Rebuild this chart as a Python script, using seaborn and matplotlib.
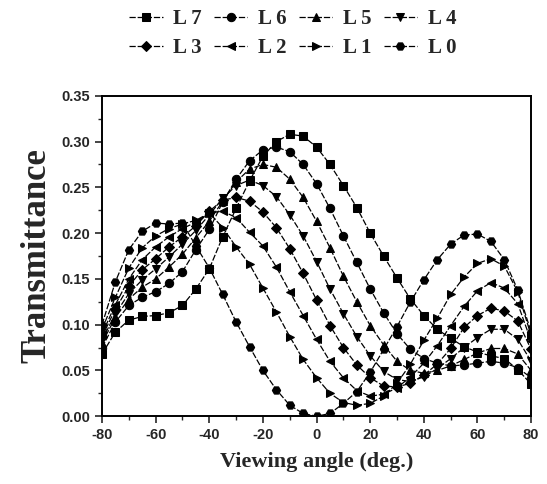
import numpy as np
import pandas as pd
import matplotlib
matplotlib.use("Agg")
import matplotlib.pyplot as plt
from matplotlib.ticker import MultipleLocator
import seaborn as sns

angles = list(range(-80, 81, 5))

L7 = [0.068, 0.092, 0.105, 0.109, 0.110, 0.113, 0.121, 0.139, 0.161, 0.196, 0.227,
      0.257, 0.284, 0.300, 0.308, 0.306, 0.294, 0.275, 0.252, 0.228, 0.200, 0.175,
      0.151, 0.128, 0.110, 0.095, 0.085, 0.076, 0.070, 0.066, 0.063, 0.051, 0.035]
L6 = [0.075, 0.103, 0.121, 0.130, 0.136, 0.145, 0.158, 0.182, 0.204, 0.234, 0.259,
      0.279, 0.291, 0.294, 0.289, 0.275, 0.254, 0.227, 0.197, 0.168, 0.139, 0.113,
      0.090, 0.073, 0.063, 0.058, 0.055, 0.056, 0.058, 0.060, 0.058, 0.053, 0.042]
L5 = [0.080, 0.108, 0.128, 0.141, 0.150, 0.163, 0.177, 0.195, 0.213, 0.235, 0.256,
      0.270, 0.275, 0.272, 0.259, 0.239, 0.213, 0.184, 0.153, 0.125, 0.099, 0.078,
      0.060, 0.050, 0.047, 0.050, 0.055, 0.062, 0.069, 0.074, 0.074, 0.068, 0.050]
L4 = [0.083, 0.112, 0.134, 0.149, 0.161, 0.174, 0.188, 0.203, 0.220, 0.238, 0.252,
      0.258, 0.252, 0.240, 0.220, 0.197, 0.169, 0.139, 0.112, 0.087, 0.066, 0.049,
      0.040, 0.038, 0.043, 0.052, 0.063, 0.075, 0.086, 0.095, 0.095, 0.084, 0.060]
L3 = [0.087, 0.117, 0.142, 0.160, 0.172, 0.185, 0.196, 0.208, 0.224, 0.236, 0.239,
      0.235, 0.223, 0.206, 0.183, 0.156, 0.127, 0.099, 0.075, 0.056, 0.042, 0.033,
      0.032, 0.036, 0.045, 0.057, 0.074, 0.097, 0.110, 0.118, 0.115, 0.104, 0.073]
L2 = [0.090, 0.122, 0.150, 0.171, 0.185, 0.196, 0.205, 0.212, 0.222, 0.224, 0.217,
      0.201, 0.186, 0.163, 0.136, 0.110, 0.084, 0.060, 0.042, 0.028, 0.022, 0.024,
      0.031, 0.043, 0.058, 0.077, 0.099, 0.120, 0.137, 0.146, 0.140, 0.123, 0.082]
L1 = [0.095, 0.130, 0.162, 0.184, 0.197, 0.205, 0.210, 0.214, 0.222, 0.206, 0.185,
      0.166, 0.140, 0.114, 0.087, 0.062, 0.042, 0.025, 0.015, 0.012, 0.014, 0.022,
      0.036, 0.057, 0.083, 0.107, 0.133, 0.152, 0.167, 0.172, 0.164, 0.136, 0.088]
L0 = [0.100, 0.147, 0.182, 0.202, 0.211, 0.210, 0.211, 0.186, 0.162, 0.133, 0.103,
      0.076, 0.050, 0.029, 0.012, 0.003, 0.000, 0.003, 0.014, 0.027, 0.048, 0.073,
      0.098, 0.125, 0.149, 0.171, 0.188, 0.198, 0.199, 0.191, 0.171, 0.138, 0.092]

series_names = ["L 7", "L 6", "L 5", "L 4", "L 3", "L 2", "L 1", "L 0"]
series_values = [L7, L6, L5, L4, L3, L2, L1, L0]
markers = ["s", "o", "^", "v", "D", "<", ">", "H"]
msizes = [5.5, 6.0, 6.0, 6.0, 5.0, 6.0, 6.0, 6.0]

x_ticks = [-80, -60, -40, -20, 0, 20, 40, 60, 80]
y_ticks = [0.00, 0.05, 0.10, 0.15, 0.20, 0.25, 0.30, 0.35]

sns.set_style("ticks")
plt.rcParams["font.family"] = ["Liberation Sans", "DejaVu Sans"]

fig = plt.figure(figsize=(5.47, 4.84), dpi=100)
ax = fig.add_axes([0.1865, 0.140, 0.7845, 0.662])

handles = []
for name, vals, mk, ms in zip(series_names, series_values, markers, msizes):
    d = pd.DataFrame({"angle": angles, "T": vals})
    sns.lineplot(data=d, x="angle", y="T", ax=ax, color="black",
                 marker=mk, markersize=ms, markeredgecolor="black",
                 markerfacecolor="black", linewidth=0.9,
                 linestyle=(0, (5, 1.5)), sort=False, estimator=None,
                 errorbar=None, legend=False)
    handles.append(ax.lines[-1])

ax.set_xlim(-80, 80)
ax.set_ylim(0, 0.35)
ax.set_xticks(x_ticks)
ax.set_yticks(y_ticks)
ax.xaxis.set_minor_locator(MultipleLocator(10))
ax.yaxis.set_minor_locator(MultipleLocator(0.025))
ax.set_xticklabels([str(v) for v in x_ticks], fontweight="bold", fontsize=10.5)
ax.set_yticklabels([f"{v:.2f}" for v in y_ticks], fontweight="bold", fontsize=10.5)
ax.tick_params(which="major", direction="out", length=5, width=1.2,
               top=False, right=False)
ax.tick_params(which="minor", direction="out", length=3, width=1.0,
               top=False, right=False)
for s in ax.spines.values():
    s.set_linewidth(1.4)
    s.set_visible(True)
    s.set_color("black")

ax.set_xlabel("Viewing angle (deg.)", family=["Liberation Serif"],
              fontweight="bold", fontsize=16, labelpad=7)
ax.set_ylabel("Transmittance", family=["Liberation Serif"],
              fontweight="bold", fontsize=25, labelpad=6)

# legend fills column-wise; reorder so rows read L7..L4 / L3..L0
order = [0, 4, 1, 5, 2, 6, 3, 7]
leg = fig.legend([handles[i] for i in order], [series_names[i] for i in order],
                 loc="upper center", bbox_to_anchor=(0.535, 1.02), ncol=4,
                 frameon=False, handlelength=1.6, handletextpad=0.5,
                 columnspacing=0.6, labelspacing=0.45,
                 prop={"family": "Liberation Serif", "weight": "bold",
                       "size": 15})

fig.savefig("out.png", dpi=100, facecolor="white")
